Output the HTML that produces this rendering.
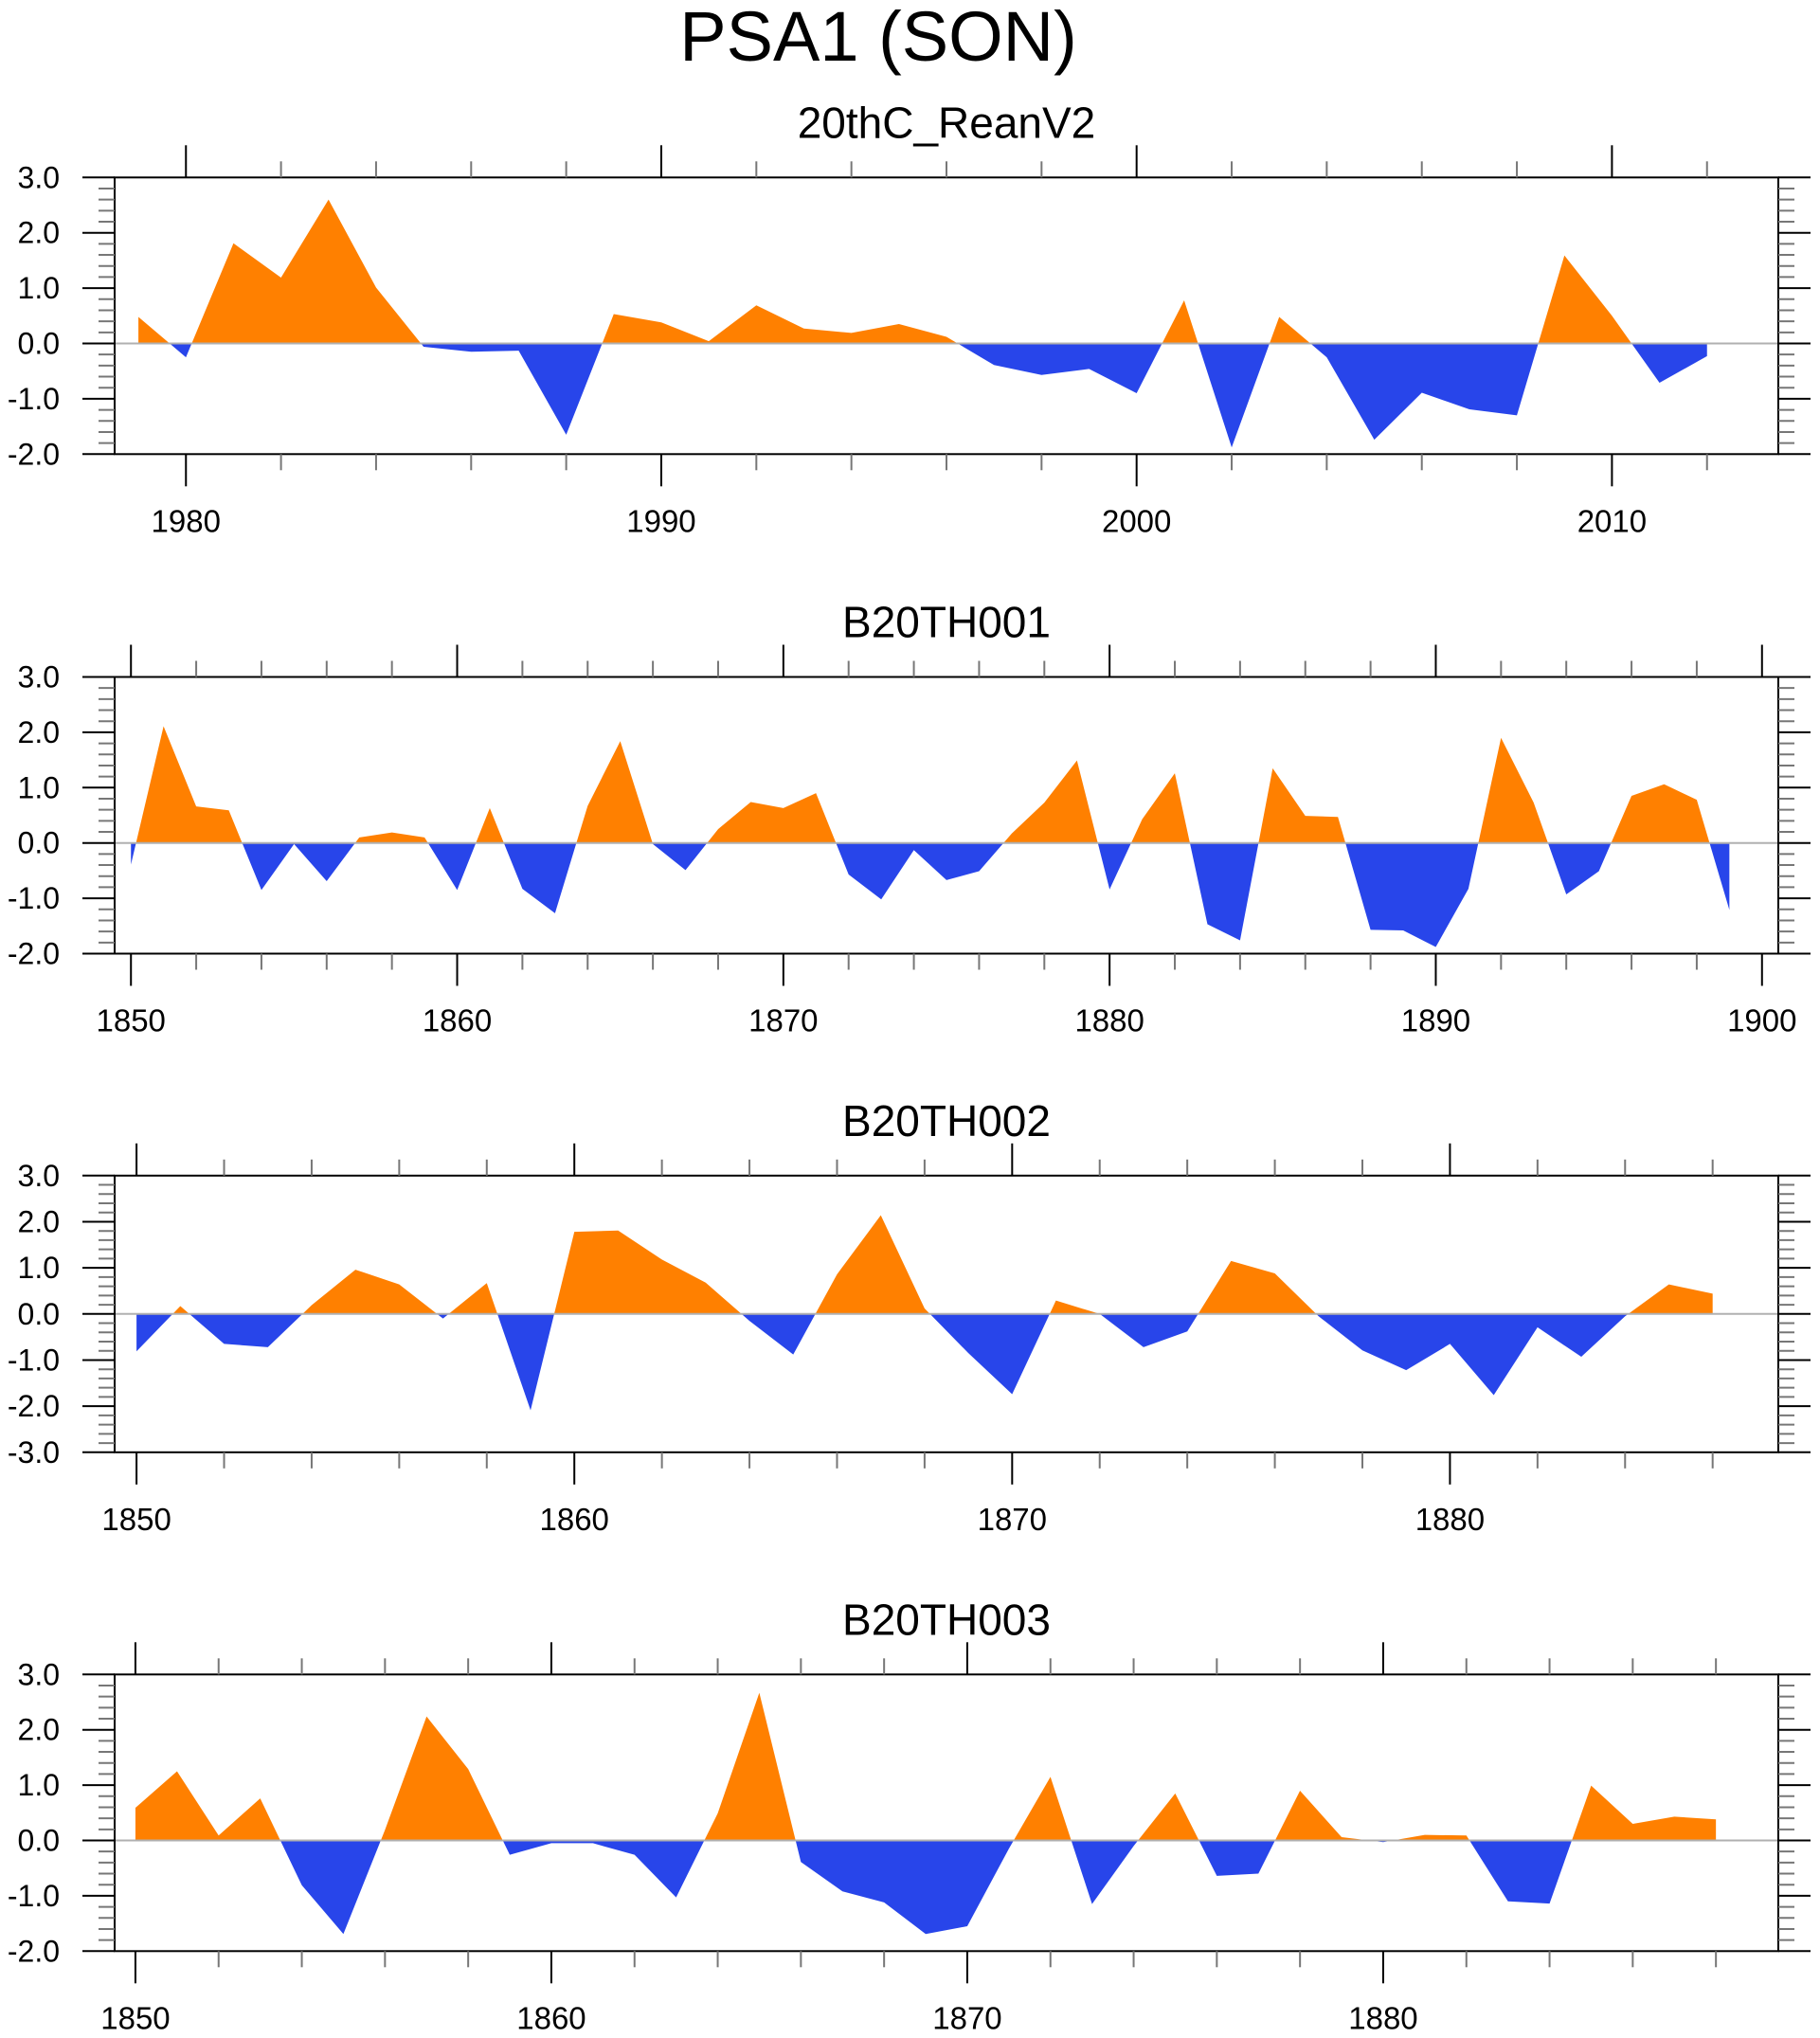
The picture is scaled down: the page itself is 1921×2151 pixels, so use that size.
<!DOCTYPE html>
<html><head><meta charset="utf-8"><style>
html,body{margin:0;padding:0;background:#fff;}
svg{display:block;font-family:"Liberation Sans",Arial,sans-serif;}
</style></head><body>
<svg id="chart" width="1921" height="2151" viewBox="0 0 1921 2151" xmlns="http://www.w3.org/2000/svg">
<text x="927" y="64" font-size="74" text-anchor="middle">PSA1 (SON)</text>
</svg>
<script>
const titles = ["20thC_ReanV2","B20TH001","B20TH002","B20TH003"];
const startYears = [1979, 1850, 1850, 1850];
const yMins = [-2, -2, -3, -2];
const yMaxs = [3, 3, 3, 3];
const valsRean = [0.48,-0.25,1.81,1.19,2.6,1.01,-0.06,-0.15,-0.13,-1.65,0.53,0.38,0.04,0.69,0.27,0.19,0.35,0.12,-0.39,-0.57,-0.46,-0.9,0.78,-1.88,0.48,-0.25,-1.74,-0.89,-1.19,-1.3,1.59,0.5,-0.71,-0.23];
const vals001 = [-0.39,2.11,0.66,0.59,-0.85,-0.02,-0.69,0.10,0.19,0.10,-0.85,0.63,-0.83,-1.27,0.67,1.84,-0.02,-0.49,0.25,0.74,0.63,0.9,-0.57,-1.02,-0.13,-0.67,-0.51,0.17,0.73,1.49,-0.84,0.43,1.26,-1.47,-1.76,1.35,0.49,0.47,-1.57,-1.58,-1.88,-0.83,1.9,0.73,-0.93,-0.51,0.85,1.06,0.78,-1.21];
const vals002 = [-0.81,0.17,-0.65,-0.72,0.19,0.96,0.64,-0.10,0.67,-2.09,1.78,1.81,1.18,0.68,-0.15,-0.88,0.86,2.14,0.12,-0.85,-1.74,0.29,0.0,-0.72,-0.38,1.15,0.88,-0.05,-0.79,-1.22,-0.65,-1.76,-0.29,-0.93,-0.05,0.64,0.44];
const vals003 = [0.59,1.25,0.09,0.76,-0.81,-1.69,0.19,2.24,1.29,-0.26,-0.05,-0.05,-0.26,-1.03,0.49,2.67,-0.39,-0.92,-1.12,-1.69,-1.55,-0.15,1.15,-1.15,-0.1,0.85,-0.64,-0.6,0.9,0.06,-0.03,0.1,0.09,-1.1,-1.14,0.99,0.3,0.43,0.38];
const series = [valsRean, vals001, vals002, vals003];

const NS = "http://www.w3.org/2000/svg";
const svg = document.getElementById("chart");
function mk(tag, attrs, parent){const e=document.createElementNS(NS,tag);for(const k in attrs)e.setAttribute(k,attrs[k]);(parent||svg).appendChild(e);return e;}
const L=121, R=1877, H=292, tops=[187.3,714.5,1240.8,1767.3];
const ORANGE="#ff8000", BLUE="#2845ea";

for(let p=0;p<4;p++){
  const vals=series[p], y0=startYears[p], n=vals.length;
  const xmin=y0-0.5, xmax=y0+n-1+1.5;
  const T=tops[p], B=T+H, ymin=yMins[p], ymax=yMaxs[p];
  const X=v=>L+(v-xmin)/(xmax-xmin)*(R-L);
  const Y=v=>B-(v-ymin)/(ymax-ymin)*H;
  const g=mk("g",{});
  
  
  const t=mk("text",{x:(L+R)/2,y:T-42,"font-size":46,"text-anchor":"middle"},g);
  t.textContent=titles[p];
  
  
  const cu=mk("clipPath",{id:"cu"+p},g); mk("rect",{x:L,y:T,width:R-L,height:Y(0)-T},cu);
  const cd=mk("clipPath",{id:"cd"+p},g); mk("rect",{x:L,y:Y(0),width:R-L,height:B-Y(0)},cd);
  let pts=[X(y0)+","+Y(0)];
  for(let i=0;i<n;i++)pts.push(X(y0+i)+","+Y(vals[i]));
  pts.push(X(y0+n-1)+","+Y(0));
  const pu=mk("polygon",{points:pts.join(" "),fill:ORANGE,"clip-path":"url(#cu"+p+")"},g);
  
  
  const pd=mk("polygon",{points:pts.join(" "),fill:BLUE,"clip-path":"url(#cd"+p+")"},g);
  
  
  const zl=mk("line",{x1:L,x2:R,y1:Y(0),y2:Y(0),stroke:"#b0b0b0","stroke-width":2},g);
  
  
  const fr=mk("rect",{x:L,y:T,width:R-L,height:H,fill:"none",stroke:"#000","stroke-width":2},g);
  
  
  for(let k=Math.round(ymin*5);k<=Math.round(ymax*5);k++){
    const v=k/5, y=Y(v), major=(k%5===0), len=major?34:17;
    mk("line",{x1:L-len,x2:L,y1:y,y2:y,stroke:major?"#000":"#777","stroke-width":2},g);
    mk("line",{x1:R,x2:R+len,y1:y,y2:y,stroke:major?"#000":"#777","stroke-width":2},g);
    if(major){
      const tl=mk("text",{x:63,y:y+11,"font-size":32,"text-anchor":"end"},g);
      tl.textContent=v.toFixed(1);
      
      
    }
  }
  for(let yr=Math.ceil(xmin);yr<=xmax;yr++){
    if(yr%2!==0)continue;
    const x=X(yr), major=(yr%10===0), len=major?34:17;
    mk("line",{x1:x,x2:x,y1:T-len,y2:T,stroke:major?"#000":"#777","stroke-width":2},g);
    mk("line",{x1:x,x2:x,y1:B,y2:B+len,stroke:major?"#000":"#777","stroke-width":2},g);
    if(major){
      const xl=mk("text",{x:x,y:B+82,"font-size":33,"text-anchor":"middle"},g);
      xl.textContent=yr;
      
      
    }
  }
}
</script>
</body></html>
